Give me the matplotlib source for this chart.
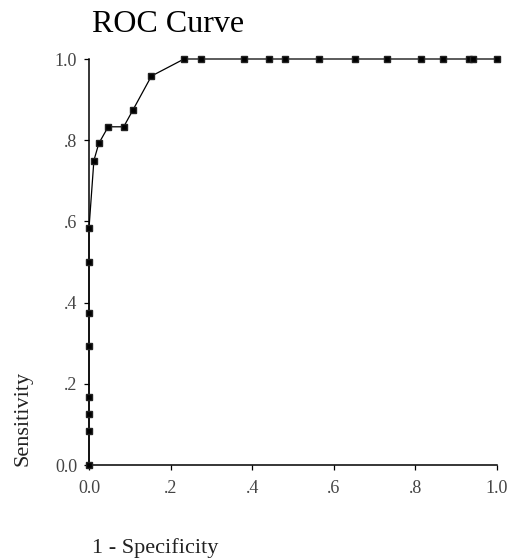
import numpy as np
from matplotlib import pyplot as plt

# ROC points
fpr = [0.0, 0.0, 0.0, 0.0, 0.0, 0.0, 0.0, 0.0,
       0.012, 0.024, 0.047, 0.085, 0.108, 0.153, 0.233, 0.275,
       0.38, 0.442, 0.48, 0.564, 0.652, 0.731, 0.814, 0.868,
       0.932, 0.942, 1.0]
tpr = [0.0, 0.083, 0.125, 0.167, 0.292, 0.375, 0.5, 0.583,
       0.75, 0.792, 0.833, 0.833, 0.875, 0.958, 1.0, 1.0,
       1.0, 1.0, 1.0, 1.0, 1.0, 1.0, 1.0, 1.0,
       1.0, 1.0, 1.0]
ticks = [0.0, 0.2, 0.4, 0.6, 0.8, 1.0]
tick_labels = ['0.0', '.2', '.4', '.6', '.8', '1.0']

plt.rcParams['font.family'] = ['Liberation Serif', 'DejaVu Serif']

W, H = 509, 560
fig = plt.figure(figsize=(W / 100, H / 100), dpi=100)
ax = fig.add_axes([89 / W, 95 / H, 408 / W, 406 / H])

ax.plot(fpr, tpr, color='black', linewidth=0.9, marker='s',
        markersize=3.8, markerfacecolor='black', markeredgecolor='#222222',
        clip_on=False, zorder=3)

ax.set_xlim(0, 1)
ax.set_ylim(0, 1)
ax.set_xticks(ticks)
ax.set_xticklabels(tick_labels)
ax.set_yticks(ticks)
ax.set_yticklabels(tick_labels)

for side in ['top', 'right']:
	ax.spines[side].set_visible(False)
for side in ['left', 'bottom']:
	ax.spines[side].set_linewidth(1.1)
	ax.spines[side].set_color('black')

ax.tick_params(axis='both', direction='out', length=3.5, width=0.9,
               labelsize=13, labelcolor='#444444', color='black')
ax.tick_params(axis='x', pad=7)
ax.tick_params(axis='y', pad=5)

fig.text(92 / W, (H - 31.7) / H, 'ROC Curve', fontsize=23,
         ha='left', va='baseline', color='black')
fig.text(92 / W, (H - 553) / H, '1 - Specificity', fontsize=16,
         ha='left', va='baseline', color='#222222')
fig.text(14 / W, (H - 466) / H, 'Sensitivity', fontsize=16, rotation=90,
         ha='left', va='bottom', color='#222222')

plt.savefig('out.png', dpi=100)
plt.close()
